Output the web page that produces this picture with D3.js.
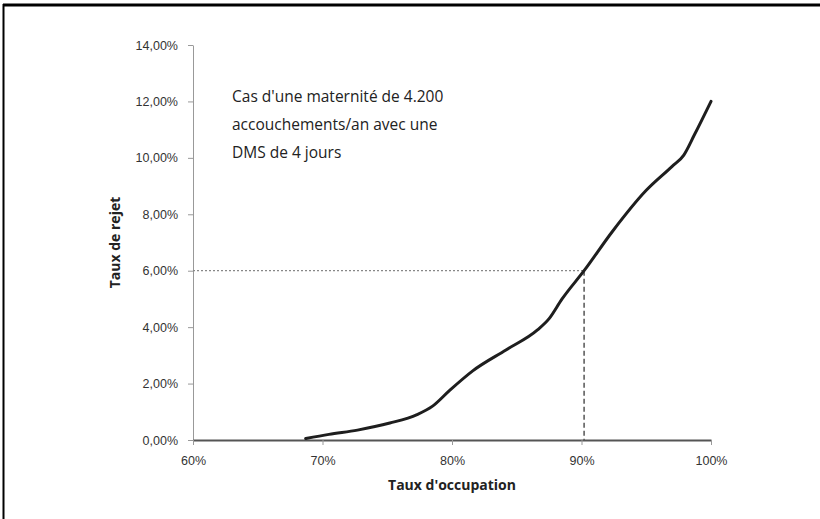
<!DOCTYPE html>
<html>
<head>
<meta charset="utf-8">
<script src="https://cdn.jsdelivr.net/npm/d3@7"></script>
<style>
  body { margin: 0; background: #fff; }
  svg { display: block; font-family: "Open Sans", sans-serif; }
</style>
</head>
<body>
<div id="chart"></div>
<script>
// taux d'occupation (%) et taux de rejet (%)
const occupation = [68.7, 70.5, 72.7, 75.2, 77.3, 78.5, 79.8, 81.6, 84.2, 86.6, 87.5, 88.5, 90.2, 92.4, 95.0, 97.0, 97.9, 98.7, 100];
const rejet = [0.05, 0.2, 0.35, 0.6, 0.9, 1.2, 1.75, 2.45, 3.2, 3.9, 4.3, 5.0, 6.0, 7.4, 8.85, 9.7, 10.1, 10.8, 12.0];
const xTicks = [60, 70, 80, 90, 100];
const yTicks = [0, 2, 4, 6, 8, 10, 12, 14];
const refPoint = { x: 90.2, y: 6 };
const noteLines = ["Cas d'une maternité de 4.200", "accouchements/an avec une", "DMS de 4 jours"];

const W = 820, H = 519;
const margin = { top: 45, right: 109, bottom: 79, left: 193 };
const width = W - margin.left - margin.right;
const height = H - margin.top - margin.bottom;

const data = occupation.map((d, i) => ({ x: d, y: rejet[i] }));

const svg = d3.select("#chart").append("svg")
  .attr("width", W)
  .attr("height", H);

// cadre (seuls les bords haut et gauche sont visibles)
svg.append("line").attr("x1", 3).attr("x2", W).attr("y1", 5).attr("y2", 5)
  .attr("stroke", "#000").attr("stroke-width", 3);
svg.append("line").attr("x1", 3.5).attr("x2", 3.5).attr("y1", 4).attr("y2", H)
  .attr("stroke", "#000").attr("stroke-width", 2);

const g = svg.append("g").attr("transform", `translate(${margin.left},${margin.top})`);

const x = d3.scaleLinear().domain([60, 100]).range([0, width]);
const y = d3.scaleLinear().domain([0, 14]).range([height, 0]);

const fmtY = d => d.toFixed(2).replace(".", ",") + "%";

// axe Y
const yAxis = g.append("g")
  .call(d3.axisLeft(y).tickValues(yTicks).tickFormat(fmtY).tickSize(5).tickSizeOuter(0).tickPadding(10));
yAxis.select(".domain").attr("stroke", "#999");
yAxis.selectAll(".tick line").attr("stroke", "#999");
yAxis.selectAll("text").attr("fill", "#333").style("font-size", "12.5px");

// axe X
const xAxis = g.append("g")
  .attr("transform", `translate(0,${height})`)
  .call(d3.axisBottom(x).tickValues(xTicks).tickFormat(d => d + "%").tickSize(5).tickSizeOuter(0).tickPadding(11));
xAxis.select(".domain").attr("stroke", "#555").attr("stroke-width", 2);
xAxis.selectAll(".tick line").attr("stroke", "#999");
xAxis.selectAll("text").attr("fill", "#333").style("font-size", "12.5px");

// repères pointillés
g.append("line")
  .attr("x1", 0).attr("x2", x(refPoint.x))
  .attr("y1", y(refPoint.y)).attr("y2", y(refPoint.y))
  .attr("stroke", "#888").attr("stroke-width", 1.3).attr("stroke-dasharray", "2,2");
g.append("line")
  .attr("x1", x(refPoint.x)).attr("x2", x(refPoint.x))
  .attr("y1", y(refPoint.y)).attr("y2", height)
  .attr("stroke", "#555").attr("stroke-width", 1.5).attr("stroke-dasharray", "5,3");

// courbe
const line = d3.line()
  .x(d => x(d.x))
  .y(d => y(d.y))
  .curve(d3.curveMonotoneX);

g.append("path")
  .datum(data)
  .attr("fill", "none")
  .attr("stroke", "#1e1e1e")
  .attr("stroke-width", 3)
  .attr("stroke-linecap", "round")
  .attr("d", line);

// titres des axes
g.append("text")
  .attr("x", width / 2)
  .attr("y", height + 50)
  .attr("text-anchor", "middle")
  .attr("fill", "#222")
  .style("font-size", "14px")
  .style("font-weight", "bold")
  .text("Taux d'occupation");

g.append("text")
  .attr("transform", `translate(-73,${height / 2}) rotate(-90)`)
  .attr("text-anchor", "middle")
  .attr("fill", "#222")
  .style("font-size", "14px")
  .style("font-weight", "bold")
  .text("Taux de rejet");

// note
g.append("g")
  .selectAll("text")
  .data(noteLines)
  .join("text")
  .attr("x", 39)
  .attr("y", (d, i) => 57 + i * 28)
  .attr("fill", "#222")
  .style("font-size", "15.5px")
  .text(d => d);
</script>
</body>
</html>
